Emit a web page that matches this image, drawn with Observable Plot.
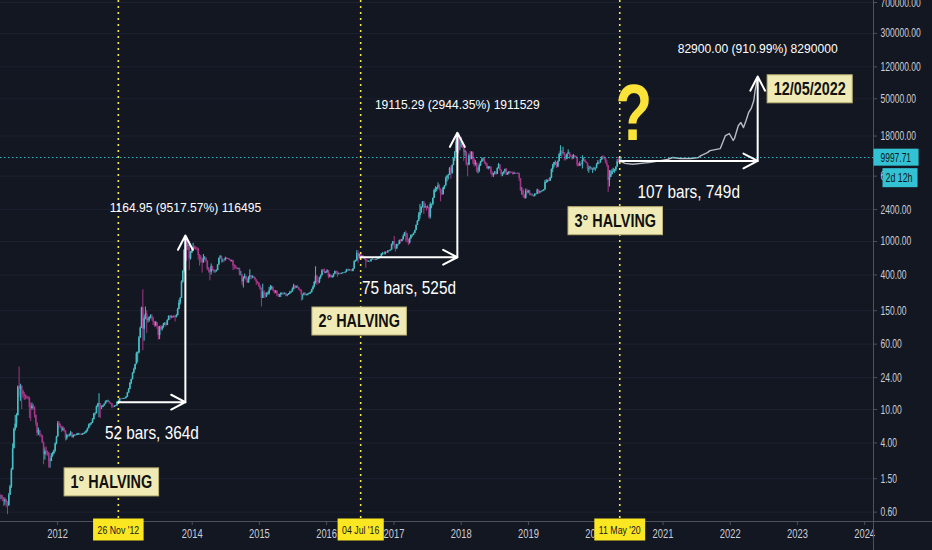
<!DOCTYPE html>
<html>
<head>
<meta charset="utf-8">
<script src="https://cdn.jsdelivr.net/npm/d3@7"></script>
<script src="https://cdn.jsdelivr.net/npm/@observablehq/plot@0.6"></script>
<style>
html,body{margin:0;padding:0;background:#131722;overflow:hidden}
#chart svg{display:block}
#err{position:absolute;left:10px;top:10px;color:#f55;font:14px monospace;white-space:pre}
</style>
</head>
<body>
<div id="chart"></div>
<div id="err"></div>
<script>
window.onerror = (m, s, l, c, e) => { document.getElementById("err").textContent += "ERR " + m + " @" + l + ":" + c + "\n"; };
</script>
<script>
// ---------------- DATA ----------------
// Weekly candles [close, high, low]; open = previous close. First week starts Mon 2011-02-21.
const firstWeek = "2011-02-21";
const firstOpen = 0.95;
const w2011 = [
 [0.90,1.00,0.80],[0.90,0.95,0.85],[0.88,0.95,0.80],[0.80,0.90,0.70],[0.83,0.88,0.72],[0.78,0.85,0.68],
 [0.72,0.80,0.56],[0.95,1.00,0.70],[1.20,1.25,0.95],[1.90,2.00,1.15],
 [3.40,3.90,1.90],[5.80,6.00,3.40],[6.70,8.50,5.50],[8.40,8.90,6.00],[18.5,19.0,8.40],
 [17.5,32.0,14.0],[19.0,20.0,12.5],[16.5,17.5,10.0],[15.0,17.0,13.5],
 [14.3,15.9,12.8],[14.2,15.0,13.0],[13.8,14.5,13.2],[13.5,14.2,12.9],
 [10.5,14.0,7.8],[10.3,12.0,7.2],[11.0,11.9,9.8],[10.6,11.5,9.9],[8.5,10.8,7.9],
 [6.8,8.6,6.3],[5.2,7.0,4.8],[5.6,6.0,4.9],[5.0,5.6,4.7],
 [4.9,5.1,4.6],[4.0,4.9,3.9],[2.9,4.1,2.2],[3.2,3.5,2.5],[3.1,3.6,2.8],
 [3.0,3.2,2.8],[2.4,3.1,2.0],[2.4,2.6,2.0],[2.8,3.0,2.4],
 [3.0,3.1,2.7],[3.2,3.3,2.9],[3.9,4.0,3.1],[4.7,4.8,3.8]
];
const w2012 = [
 [6.8,7.2,4.7],[6.4,7.2,6.0],[6.3,6.7,5.9],[5.6,6.3,5.3],[5.9,6.2,5.5],
 [5.6,6.0,5.3],[4.5,5.6,4.2],[4.9,5.1,4.3],[4.9,5.0,4.7],
 [4.9,5.1,4.7],[5.3,5.5,4.8],[4.6,5.3,4.6],[4.9,5.0,4.6],
 [4.9,5.0,4.8],[4.9,5.0,4.8],[5.1,5.2,4.9],[5.1,5.2,4.9],[5.0,5.2,4.9],
 [4.95,5.1,4.9],[5.1,5.2,4.9],[5.1,5.2,5.0],[5.3,5.4,5.1],
 [5.5,5.6,5.2],[5.9,6.0,5.4],[6.5,6.7,5.9],[6.7,6.8,6.2],
 [6.9,7.0,6.5],[7.6,7.8,6.8],[8.9,9.0,7.5],[8.9,9.2,8.4],[10.8,11.0,8.9],
 [11.5,11.8,10.5],[11.7,15.4,8.0],[10.6,11.0,7.8],[10.6,11.0,10.0],
 [11.0,11.2,10.5],[11.5,11.7,10.9],[12.3,12.6,11.5],[12.4,12.8,12.0],
 [12.5,12.9,12.2],[11.9,12.5,11.6],[11.7,12.0,11.4],[10.8,11.8,10.2],[10.7,11.0,10.4],
 [10.9,11.1,10.6],[11.0,11.2,10.8],[12.2,12.4,11.0],[12.24,12.9,12.0],
 [13.4,13.6,12.2],[13.3,13.6,13.0],[13.3,13.5,13.1],[13.4,13.6,13.2],[13.5,13.7,13.2]
];
const w2013 = [
 [14.0,14.3,13.4],[15.7,16.0,14.0],[17.4,17.8,15.6],[20.4,21.0,17.3],
 [22.7,23.0,19.8],[27.0,27.5,22.5],[29.8,31.0,26.5],[34.3,34.5,29.5],
 [46,48,34],[47,48.5,36],[71,74,46],[93,96,70],
 [162,165,92],[90,266,50],[120,130,65],[137,166,117],[115,149,80],
 [117,125,107],[123,127,110],[129,134,120],[123,135,113],
 [110,124,100],[100,111,95],[108,112,96],[97,108,90],
 [76,97,67],[95,98,68],[90,100,87],[95,98,86],[104,106,93],
 [106,108,100],[100,108,96],[115,117,100],[129,130,114],
 [125,130,115],[128,131,120],[125,129,121],[127,130,123],[125,130,110],
 [131,135,123],[155,160,130],[185,200,155],[211,215,175],
 [327,340,210],[440,450,320],[780,800,420],[1100,1170,750],
 [870,1150,580],[890,1000,780],[620,900,450],[730,760,600],[770,830,720]
];
const w2014 = [
 [850,950,770],[830,880,800],[820,870,790],[810,850,770],
 [680,830,600],[650,700,510],[600,680,550],[560,620,420],
 [630,700,550],[630,660,600],[580,640,560],[470,590,450],[450,490,420],
 [430,470,340],[500,540,400],[460,510,440],[440,460,420],
 [440,450,420],[450,460,430],[525,530,450],[630,630,520],
 [660,680,620],[600,670,550],[600,620,560],[590,610,560],[630,650,590],
 [620,640,610],[620,630,610],[600,625,590],[580,600,570],
 [590,600,570],[510,590,450],[500,530,460],[480,520,470],
 [470,490,460],[475,480,460],[400,480,390],[400,440,390],[330,390,300],
 [360,380,280],[380,410,370],[350,390,340],[320,360,320],
 [375,380,320],[390,460,350],[375,390,350],[380,390,360],
 [370,385,360],[350,365,340],[330,350,300],[320,335,310],[290,320,285]
];
const w2015 = [
 [270,300,260],[210,280,166],[250,310,210],[230,260,210],
 [225,245,210],[235,245,215],[240,250,230],[260,285,230],
 [275,300,260],[285,295,265],[260,285,250],[250,260,235],[255,260,240],
 [235,260,220],[225,235,215],[230,235,215],[240,245,215],
 [240,245,230],[237,245,230],[240,245,232],[225,240,220],
 [230,235,220],[235,240,228],[245,255,235],[250,255,240],[270,280,250],
 [295,310,265],[280,300,270],[290,295,275],[280,300,275],
 [265,285,260],[260,270,250],[230,265,195],[230,235,200],[240,245,225],
 [230,245,225],[230,235,225],[235,240,225],[240,245,235],
 [245,250,235],[265,270,245],[285,295,265],[325,335,280],
 [385,500,310],[330,390,300],[325,340,310],[370,375,315],[390,400,355],
 [450,465,390],[435,465,430],[420,470,410],[430,440,415]
];
const w2016 = [
 [450,460,420],[380,450,360],[395,410,370],[375,400,365],
 [385,390,365],[410,410,370],[440,445,405],[430,445,400],[410,440,375],
 [415,420,400],[410,420,400],[415,420,405],[420,425,410],
 [420,425,415],[430,435,420],[460,465,425],[455,470,440],
 [460,465,440],[455,460,445],[440,460,435],[470,475,435],[575,590,470],
 [585,600,565],[720,780,580],[660,770,550],[700,710,620],
 [650,700,610],[665,680,645],[655,680,650],[610,660,600],
 [585,615,480],[570,600,570],[580,585,565],[575,585,565],[605,610,570],
 [610,630,600],[605,610,600],[600,610,590],[610,615,600],
 [615,620,605],[640,645,615],[655,660,630],[700,720,650],[705,740,680],
 [700,740,690],[740,760,690],[730,750,720],[765,780,730],
 [770,780,755],[790,795,765],[920,935,790],[1000,1000,890]
];
const w2017 = [
 [900,1150,810],[820,910,750],[920,930,800],[920,925,880],[1020,1040,915],
 [1000,1060,940],[1050,1060,990],[1150,1200,1040],[1260,1280,1140],
 [1230,1330,980],[1020,1250,960],[960,1060,890],[1080,1100,930],
 [1180,1200,1060],[1180,1210,1120],[1250,1260,1170],[1350,1360,1240],
 [1550,1580,1340],[1730,1780,1550],[2040,2200,1720],[2200,2760,1850],[2550,2600,2150],
 [2950,2990,2500],[2500,3000,2100],[2600,2800,2500],[2500,2600,2300],
 [2500,2650,2450],[1950,2550,1850],[2750,2900,1850],[2750,2800,2450],[3250,3300,2650],
 [4050,4200,3300],[4100,4480,3800],[4350,4400,3900],[4600,4980,4200],
 [4150,4750,4000],[3700,4250,2970],[3600,4100,3500],[4350,4400,3700],
 [4600,4650,4150],[5650,5850,4550],[6000,6150,5100],[6100,6300,5400],[7400,7600,6100],
 [6500,7900,5500],[8000,8200,6300],[9700,9800,8000],[11500,11800,9000],
 [15300,17200,11400],[19100,19800,15500],[13800,19100,11000],[13800,16500,12000]
];
const w2018 = [
 [14000,17200,13000],[13500,15000,12800],[11500,14000,9000],[11600,12200,10300],[8200,11500,7900],
 [8100,8600,5900],[10400,11000,8000],[9600,11800,9300],[11400,11700,9400],
 [9500,11700,8300],[8200,9900,7700],[8500,9200,7900],[6900,8700,6600],
 [6900,7500,6400],[8000,8400,6600],[8900,9000,7800],[9300,9800,8700],[9600,9900,8900],
 [8700,9700,8300],[8200,8800,7900],[7400,8500,7200],[7700,7800,7100],
 [7700,7750,7300],[6500,7600,6200],[6200,6800,5800],[6400,6500,5800],
 [6700,6800,6200],[6300,6750,6100],[7400,7550,6300],[8200,8500,7300],[7000,8200,6900],
 [6300,7200,5900],[6400,6600,5900],[6700,6850,6200],[7200,7300,6650],
 [6200,7400,6100],[6500,6600,6150],[6700,6800,6250],[6600,6800,6400],
 [6550,6700,6450],[6300,6700,6150],[6450,6700,6350],[6400,6550,6350],[6350,6500,6300],
 [6400,6550,6350],[5600,6500,5200],[4000,5600,3950],[4000,4400,3550],
 [3600,4200,3300],[3250,3600,3200],[3950,4200,3200],[3800,4200,3600],[4000,4050,3700]
];
const w2019 = [
 [3650,4100,3500],[3550,3750,3500],[3550,3650,3450],[3450,3500,3350],
 [3650,3700,3400],[3650,3700,3550],[4100,4200,3700],[3800,3950,3650],
 [3900,3950,3700],[3950,4000,3800],[3990,4050,3900],[4100,4150,3950],
 [5050,5350,4100],[5150,5450,4900],[5300,5400,5000],[5200,5600,5100],[5700,5800,5200],
 [7200,7300,5600],[8100,8300,6600],[8700,8700,7500],[8700,9100,8000],
 [7700,8800,7400],[8900,9100,7550],[10800,11200,8900],[11900,13800,10300],
 [11300,12000,9600],[11400,13200,10800],[10600,11200,9100],[9500,10700,9100],[10900,11000,9400],
 [11400,12300,10900],[10300,11500,9500],[10100,10900,9900],[9600,10600,9300],
 [10500,10900,9800],[10300,10500,9950],[9950,10350,9700],[8050,10100,7700],[7900,8500,7750],
 [8300,8900,7850],[8250,8450,7900],[9200,10500,7300],[9200,9900,9000],
 [8800,9500,8700],[8500,8900,8400],[7300,8600,6800],[7400,7900,6500],
 [7500,7800,7100],[7100,7600,7050],[7150,7450,6450],[7300,7650,7050],[7350,7500,6850]
];
const w2020 = [
 [8200,8450,7650],[8700,9200,8200],[8600,8750,8250],[9350,9550,8550],
 [10150,10150,9200],[9900,10500,9550],[9650,10250,9300],[8550,9950,8400],
 [7950,9200,7650],[5350,8000,3850],[5800,7000,4450],[6250,6950,5800],[6800,7250,6200],
 [6900,7450,6650],[7100,7250,6450],[7700,7750,6800],[8900,9450,7650],
 [8750,10050,8600],[9700,9950,8350],[9997.71,10050,9000]
];

// Projected path (bars pattern) after the 3rd halving
const projDates  = ["2020-05-11","2020-06-08","2020-07-20","2020-10-26","2021-01-25","2021-02-22","2021-04-05","2021-05-31","2021-07-12","2021-07-26","2021-08-30","2021-09-13","2021-10-11","2021-11-08","2021-12-06","2021-12-27","2022-01-17","2022-01-24","2022-02-14","2022-02-28","2022-03-14","2022-03-28","2022-04-11","2022-04-25","2022-05-09","2022-05-16","2022-05-30"];
const projPrices = [9100,8500,8300,8750,9470,10000,9730,9730,10000,10550,11440,12090,12420,12770,18270,19300,15950,16860,23990,26050,22700,27540,34330,38330,47700,62700,92000];

// Halvings and measurements
const halvingDates  = ["2012-11-26","2016-07-04","2020-05-11"];
const halvingTags   = ["26 Nov '12","04 Jul '16","11 May '20"];
const halvingNames  = ["1° HALVING","2° HALVING","3° HALVING"];
const measureStart  = [12.24, 649.21, 9100];
const measureEnd    = [1177.19, 19764.50, 92000];
const measureBars   = [52, 75, 107];
const measureDays   = [364, 525, 749];
const measureInfo   = ["1164.95 (9517.57%) 116495","19115.29 (2944.35%) 1911529","82900.00 (910.99%) 8290000"];
const targetLabel   = "12/05/2022";
const currentPrice  = 9997.71;
const countdown     = "2d 12h";

// Axis ticks
const yTicks = [700000,300000,120000,50000,18000,6000,2400,1000,400,150,60,24,10,4,1.5,0.6];
const yearTicks = [2012,2013,2014,2015,2016,2017,2018,2019,2020,2021,2022,2023,2024];

// ---------------- BUILD ----------------
const DAY = 864e5;
const weeks = [...w2011,...w2012,...w2013,...w2014,...w2015,...w2016,...w2017,...w2018,...w2019,...w2020];
const t0 = new Date(firstWeek + "T00:00:00Z").getTime();
let prev = firstOpen;
const candles = weeks.map(([c,h,l], i) => {
  const o = prev; prev = c;
  return {date: new Date(t0 + i*7*DAY), open: o, close: c, high: Math.max(h,o,c), low: Math.min(l,o,c), up: c >= o};
});
const proj = projDates.map((d,i) => ({date: new Date(d + "T00:00:00Z"), price: projPrices[i]}));
const meas = halvingDates.map((d,i) => {
  const s = new Date(d + "T00:00:00Z");
  const e = new Date(s.getTime() + measureDays[i]*DAY);
  return {start: s, end: e, mid: new Date((s.getTime()+e.getTime())/2), p0: measureStart[i], p1: measureEnd[i],
          info: measureInfo[i], bars: `${measureBars[i]} bars, ${measureDays[i]}d`, tag: halvingTags[i], name: halvingNames[i]};
});
const yearDates = yearTicks.map(y => new Date(Date.UTC(y,0,1)));

const UP = "#45bfc6", DOWN = "#a8358a";
const AXIS = "#4e525d", AXTXT = "#ccced6", GRID = "#1d2130";
const FONT = "'Liberation Sans', Arial, sans-serif";
const X_END = new Date("2024-02-18"), Y_MIN = 0.4642;

// layout offsets (px) for annotation labels, relative to halving date / start price
const nameDx = [-7, -1.5, -4.5], nameDy = [80, 64, 60];

const marks = [
  Plot.ruleY(yTicks, {y: d => d, stroke: GRID, strokeWidth: 1}),
  Plot.ruleX(candles, {x: "date", y1: "low", y2: "high", stroke: d => d.up ? UP : DOWN, strokeWidth: 1}),
  Plot.ruleX(candles, {x: "date", y1: "open", y2: "close", stroke: d => d.up ? UP : DOWN, strokeWidth: 1.6}),
  Plot.line(proj, {x: "date", y: "price", stroke: "#b8bbc3", strokeWidth: 1.4}),
  Plot.ruleY([currentPrice], {y: d => d, stroke: "#2fb8c6", strokeWidth: 1, strokeDasharray: "1.5,2.5"}),
  Plot.ruleX(meas, {x: "start", stroke: "#f0e64a", strokeWidth: 1.6, strokeDasharray: "2,4", insetBottom: -2}),
  Plot.arrow(meas, {x1: "start", y1: "p0", x2: "end", y2: "p0", stroke: "#ffffff", strokeWidth: 2, headLength: 12, headAngle: 55}),
  Plot.arrow(meas, {x1: "end", y1: "p0", x2: "end", y2: "p1", stroke: "#ffffff", strokeWidth: 2, headLength: 12, headAngle: 55}),
  Plot.text(meas, {x: "end", y: "p1", text: "info", dy: -28, fill: "#ffffff", fontSize: 13, ariaDescription: "measure-info"}),
  Plot.text(meas, {x: "mid", y: "p0", text: "bars", dy: 31, fill: "#ffffff", fontSize: 18.5, ariaDescription: "measure-bars"}),
  ...meas.map((m,i) => Plot.text([m], {x: "start", y: "p0", text: "name", dx: nameDx[i], dy: nameDy[i], fill: "#111111", fontSize: 18, fontWeight: "bold", ariaDescription: "name-box"})),
  Plot.text([meas[2]], {x: "end", y: "p1", text: () => targetLabel, dx: 52, dy: 12.5, fill: "#111111", fontSize: 18, fontWeight: "bold", ariaDescription: "name-box"}),
  Plot.text([meas[2]], {x: "start", y: "p0", text: () => "?", dx: 14, dy: -47, fill: "#fbe33a", fontSize: 80, fontWeight: "bold", ariaDescription: "question"}),
  // axes
  Plot.tickY(yTicks, {y: d => d, stroke: AXIS, insetLeft: 873, insetRight: -4}),
  Plot.text(yTicks, {y: d => d, frameAnchor: "right", text: d => d.toFixed(2), dx: 7, textAnchor: "start", fill: AXTXT, fontSize: 12.5, ariaDescription: "ylab"}),
  Plot.tickX(yearDates, {x: d => d, stroke: AXIS, insetTop: 521, insetBottom: -4}),
  Plot.text(yearDates, {x: d => d, frameAnchor: "bottom", text: d => String(d.getUTCFullYear()), dy: 16, fill: AXTXT, fontSize: 13, ariaDescription: "xlab"}),
  Plot.ruleX([X_END], {x: d => d, stroke: AXIS, strokeWidth: 1, insetBottom: -29}),
  Plot.ruleY([Y_MIN], {y: d => d, stroke: AXIS, strokeWidth: 1, insetRight: -59}),
  Plot.text(meas, {x: "start", frameAnchor: "bottom", text: "tag", dy: 12, fill: "#131722", fontSize: 11.5, ariaDescription: "date-tag"}),
  Plot.text([currentPrice], {y: d => d, frameAnchor: "right", text: d => d.toFixed(2), dx: 7, textAnchor: "start", fill: "#0d1a20", fontSize: 13, ariaDescription: "price-tag"}),
  Plot.text([currentPrice], {y: d => d, frameAnchor: "right", text: () => countdown, dx: 12, dy: 20.5, textAnchor: "start", fill: "#0d1a20", fontSize: 13, ariaDescription: "count-tag"})
];

const svg = Plot.plot({
  width: 932, height: 550,
  marginLeft: 0, marginRight: 59, marginTop: 0, marginBottom: 29,
  style: {background: "#131722", fontFamily: FONT, overflow: "visible"},
  x: {type: "utc", domain: [new Date("2011-02-25"), X_END], axis: null},
  y: {type: "log", domain: [Y_MIN, 739600], axis: null},
  marks
});
document.getElementById("chart").append(svg);

// ---------------- styling helpers ----------------
const NS = "http://www.w3.org/2000/svg";
function groupTexts(label) {
  return Array.from(svg.querySelectorAll("g")).filter(g => g.getAttribute("aria-description") === label)
    .flatMap(g => Array.from(g.querySelectorAll("text")));
}
function condense(label, k) {
  groupTexts(label).forEach(t => {
    const L = t.getComputedTextLength();
    if (L > 0) {
      t.setAttribute("textLength", (L * k).toFixed(2));
      t.setAttribute("lengthAdjust", "spacingAndGlyphs");
    }
  });
}
function boxes(label, fill, stroke, pl, pr, pt, pb) {
  groupTexts(label).forEach(t => {
    const b = t.getBBox();
    const r = document.createElementNS(NS, "rect");
    r.setAttribute("x", b.x - pl); r.setAttribute("y", b.y - pt);
    r.setAttribute("width", b.width + pl + pr); r.setAttribute("height", b.height + pt + pb);
    r.setAttribute("fill", fill);
    if (stroke) { r.setAttribute("stroke", stroke); r.setAttribute("stroke-width", 1); }
    const tr = t.getAttribute("transform");
    if (tr) r.setAttribute("transform", tr);
    t.parentNode.insertBefore(r, t);
  });
}
try {
  condense("ylab", 0.68);
  condense("xlab", 0.72);
  condense("measure-info", 0.93);
  condense("measure-bars", 0.83);
  condense("name-box", 0.8);
  condense("question", 0.75);
  condense("date-tag", 0.76);
  condense("price-tag", 0.65);
  condense("count-tag", 0.68);
  boxes("name-box", "#f0eab6", "#bdb273", 6.5, 6.5, 4, 4);
  boxes("date-tag", "#fbe622", null, 4.5, 4.5, 5, 5);
  boxes("price-tag", "#33c2d3", null, 7, 7.5, 1, 1);
  boxes("count-tag", "#33c2d3", null, 3, 5, 2, 2);
} catch (e) {
  document.getElementById("err").textContent += "CATCH " + e.message;
}
</script>
</body>
</html>
